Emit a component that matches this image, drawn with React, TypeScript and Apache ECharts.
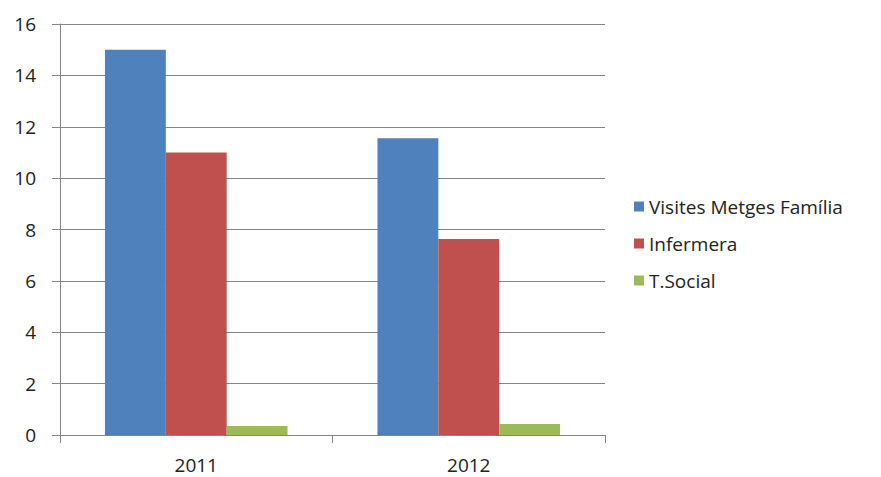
import React, { useEffect, useRef } from "react";
import * as echarts from "echarts";

const categories = ["2011", "2012"];
const seriesNames = ["Visites Metges Família", "Infermera", "T.Social"];
const metges = [15, 11.55];
const infermera = [11, 7.63];
const social = [0.35, 0.43];
const yTicks = { min: 0, max: 16, interval: 2 };
const colors = ["#4F81BD", "#C0504D", "#9BBB59"];

export default function App() {
  const ref = useRef<HTMLDivElement>(null);
  useEffect(() => {
    if (!ref.current) return;
    const chart = echarts.init(ref.current, undefined, { renderer: "svg" });
    const font = "'Open Sans', 'Noto Sans', sans-serif";
    const values = [metges, infermera, social];
    chart.setOption({
      animation: false,
      backgroundColor: "#ffffff",
      textStyle: { fontFamily: font },
      grid: { left: 60, right: 276, top: 24, bottom: 42, containLabel: false },
      legend: {
        orient: "vertical",
        left: 629,
        top: 192,
        itemWidth: 10,
        itemHeight: 10,
        itemGap: 18,
        icon: "rect",
        data: seriesNames,
        textStyle: { fontSize: 19, color: "#222", fontFamily: font },
      },
      xAxis: {
        type: "category",
        data: categories,
        axisLine: { lineStyle: { color: "#868686", width: 1 } },
        axisTick: { show: true, length: 8, lineStyle: { color: "#868686" } },
        axisLabel: { fontSize: 19, color: "#222", margin: 20, fontFamily: font },
      },
      yAxis: {
        type: "value",
        min: yTicks.min,
        max: yTicks.max,
        interval: yTicks.interval,
        axisLine: { show: true, lineStyle: { color: "#868686", width: 1 } },
        axisTick: { show: true, length: 8, lineStyle: { color: "#868686" } },
        axisLabel: { fontSize: 19, color: "#222", margin: 24, fontFamily: font },
        splitLine: { show: true, lineStyle: { color: "#868686", width: 1 } },
      },
      series: seriesNames.map((name, i) => ({
        name,
        type: "bar",
        data: values[i],
        barGap: "0%",
        barCategoryGap: "33%",
        itemStyle: { color: colors[i] },
      })),
    });
    return () => chart.dispose();
  }, []);
  return <div ref={ref} style={{ width: 881, height: 477, position: "absolute", left: 0, top: 0 }} />;
}
